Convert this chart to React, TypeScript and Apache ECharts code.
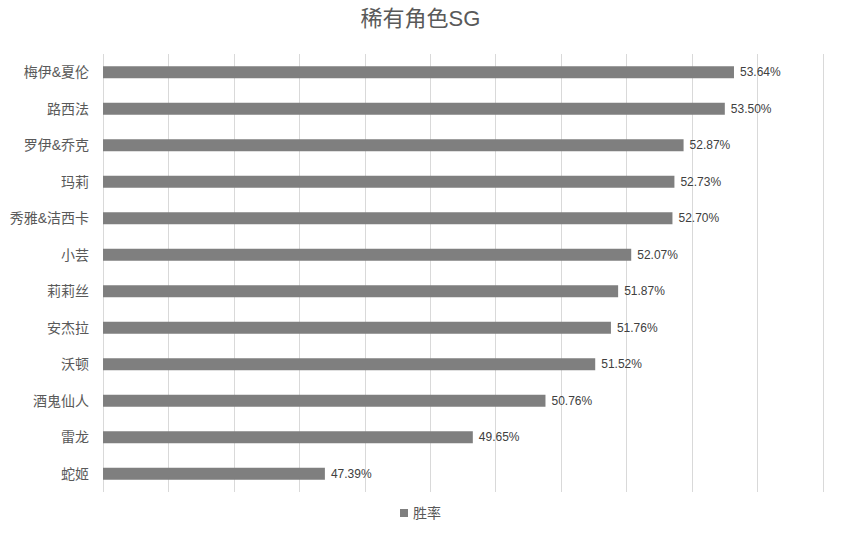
import { useEffect, useRef } from 'react'
import * as echarts from 'echarts'

// 角色名称（从上到下）
const roles = [
  '梅伊&夏伦', '路西法', '罗伊&乔克', '玛莉', '秀雅&洁西卡', '小芸',
  '莉莉丝', '安杰拉', '沃顿', '酒鬼仙人', '雷龙', '蛇姬',
]
// 胜率（%）
const winRates = [53.64, 53.5, 52.87, 52.73, 52.7, 52.07, 51.87, 51.76, 51.52, 50.76, 49.65, 47.39]

const FONT = '"Liberation Sans", "Noto Sans CJK SC", sans-serif'

export default function App() {
  const ref = useRef<HTMLDivElement>(null)

  useEffect(() => {
    document.body.style.margin = '0'
    if (!ref.current) return
    const chart = echarts.init(ref.current, null, { renderer: 'svg' })

    chart.setOption({
      animation: false,
      backgroundColor: '#ffffff',
      textStyle: { fontFamily: FONT },
      title: {
        text: '稀有角色SG',
        left: 'center',
        top: 2,
        textStyle: { color: '#595959', fontSize: 22, fontWeight: 'normal', fontFamily: FONT },
      },
      legend: {
        data: ['胜率'],
        bottom: 10,
        left: 'center',
        icon: 'rect',
        itemWidth: 8,
        itemHeight: 8,
        itemGap: 4,
        textStyle: { color: '#595959', fontSize: 14, fontFamily: FONT },
      },
      grid: { left: 103, right: 18, top: 54, bottom: 43 },
      xAxis: {
        type: 'value',
        min: 44,
        max: 55,
        interval: 1,
        axisLabel: { show: false },
        axisLine: { show: false },
        axisTick: { show: false },
        splitLine: { lineStyle: { color: '#d9d9d9', width: 1 } },
      },
      yAxis: {
        type: 'category',
        data: roles,
        inverse: true,
        axisLine: { show: false },
        axisTick: { show: false },
        axisLabel: { color: '#595959', fontSize: 14, margin: 14, fontFamily: FONT },
      },
      series: [
        {
          name: '胜率',
          type: 'bar',
          data: winRates,
          barWidth: 12,
          itemStyle: { color: '#7f7f7f' },
          label: {
            show: true,
            position: 'right',
            distance: 6,
            color: '#404040',
            fontSize: 12,
            fontFamily: FONT,
            formatter: (p: any) => p.value.toFixed(2) + '%',
          },
        },
      ],
    })

    return () => chart.dispose()
  }, [])

  return <div ref={ref} style={{ width: 841, height: 535 }} />
}
